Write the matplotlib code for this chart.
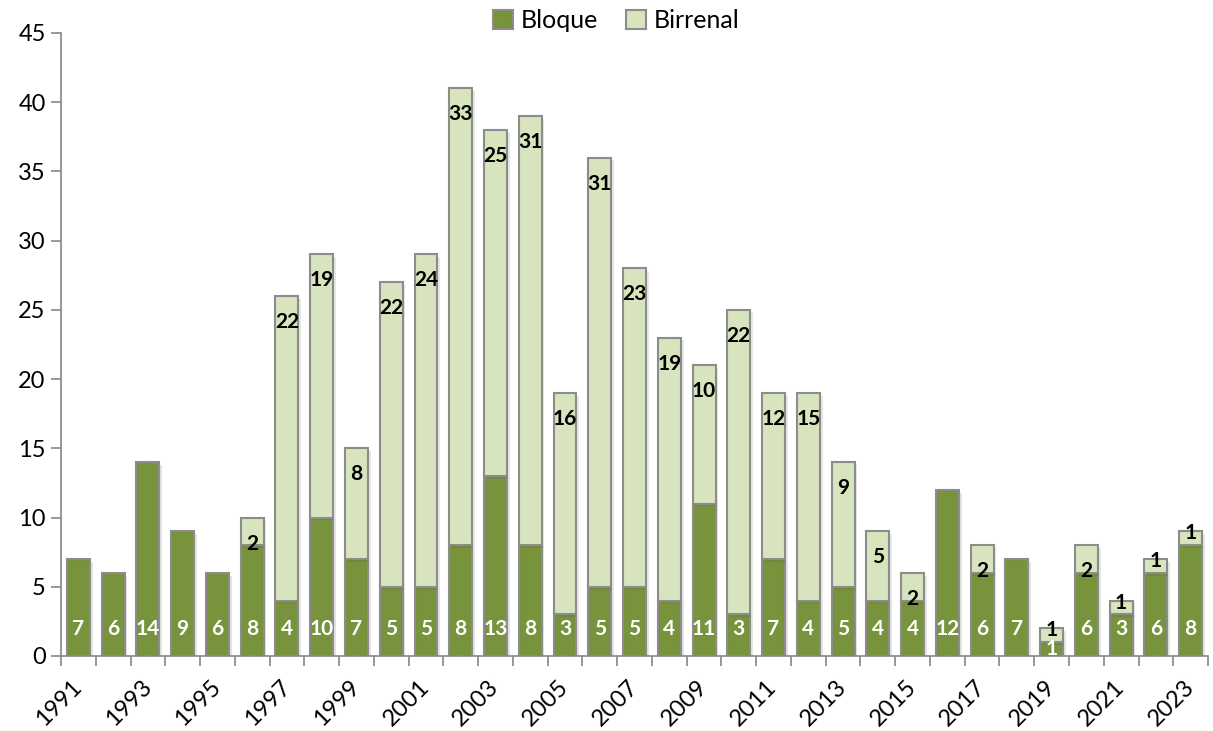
import matplotlib
matplotlib.use("Agg")
import matplotlib.pyplot as plt
import matplotlib.patheffects as pe
from matplotlib.patches import Patch
import numpy as np

years = list(range(1991, 2024))
bloque = [7, 6, 14, 9, 6, 8, 4, 10, 7, 5, 5, 8, 13, 8, 3, 5, 5, 4, 11, 3, 7, 4, 5, 4, 4, 12, 6, 7, 1, 6, 3, 6, 8]
birrenal = [0, 0, 0, 0, 0, 2, 22, 19, 8, 22, 24, 33, 25, 31, 16, 31, 23, 19, 10, 22, 12, 15, 9, 5, 2, 0, 2, 0, 1, 2, 1, 1, 1]
y_ticks = [0, 5, 10, 15, 20, 25, 30, 35, 40, 45]

plt.rcParams['font.family'] = ['Lato', 'DejaVu Sans']

C_DARK = '#77933C'
C_LIGHT = '#D7E4BD'
C_EDGE = '#8C8C8C'
C_AXIS = '#868686'

fig = plt.figure(figsize=(12.13, 7.31), dpi=100)
ax = fig.add_axes([0.0503, 0.1026, 0.9456, 0.8523])

x = np.arange(len(years))
shadow = [pe.SimplePatchShadow(offset=(2, -2), alpha=0.12), pe.Normal()]
b1 = ax.bar(x, bloque, width=0.66, color=C_DARK, edgecolor=C_EDGE, linewidth=1.5, zorder=2)
b2 = ax.bar(x, birrenal, width=0.66, bottom=bloque, color=C_LIGHT, edgecolor=C_EDGE,
            linewidth=1.5, zorder=2)
for p in list(b1) + list(b2):
    if p.get_height() > 0:
        p.set_path_effects(shadow)
for p, v in zip(b2, birrenal):
    if v == 0:
        p.set_visible(False)

LBL = 15
for i, (bl, bi) in enumerate(zip(bloque, birrenal)):
    if bl >= 2:
        ax.annotate(str(bl), (i, 0), xytext=(0, 19.5), textcoords='offset points',
                    ha='center', va='center', color='white', fontweight='bold',
                    fontsize=LBL, zorder=4)
    else:
        ax.text(i, bl / 2, str(bl), ha='center', va='center', color='white',
                fontweight='bold', fontsize=LBL, zorder=4)
    if bi > 0:
        top = bl + bi
        off = -18.7 if bi >= 2 else -1.5
        ax.annotate(str(bi), (i, top), xytext=(0, off), textcoords='offset points',
                    ha='center', va='center', color='black', fontweight='bold',
                    fontsize=LBL, zorder=4)

ax.set_xlim(-0.5, len(years) - 0.5)
ax.set_ylim(0, 45)
ax.set_yticks(y_ticks)
ax.set_yticklabels([str(v) for v in y_ticks], fontsize=17)

ax.set_xticks(np.arange(-0.5, len(years), 1.0))
ax.set_xticklabels([])
ax.set_xticks(x[::2], minor=True)
ax.set_xticklabels([str(y) for y in years[::2]], minor=True, rotation=45,
                   ha='right', va='center', rotation_mode='anchor', fontsize=17)
ax.tick_params(axis='x', which='minor', length=0, pad=20)
ax.tick_params(axis='x', which='major', length=7, color=C_AXIS, width=1.2)
ax.tick_params(axis='y', length=7, color=C_AXIS, width=1.2, pad=4)

for s in ['top', 'right']:
    ax.spines[s].set_visible(False)
for s in ['left', 'bottom']:
    ax.spines[s].set_color(C_AXIS)
    ax.spines[s].set_linewidth(1.2)

handles = [Patch(facecolor=C_DARK, edgecolor=C_EDGE, linewidth=1.5),
           Patch(facecolor=C_LIGHT, edgecolor=C_EDGE, linewidth=1.5)]
fig.legend(handles=handles, labels=['Bloque', 'Birrenal'], loc='center',
           bbox_to_anchor=(0.508, 0.972), ncol=2, frameon=False, fontsize=18,
           handlelength=0.8, handleheight=0.8, handletextpad=0.3, columnspacing=1.1)

fig.savefig('out.png', dpi=100)
